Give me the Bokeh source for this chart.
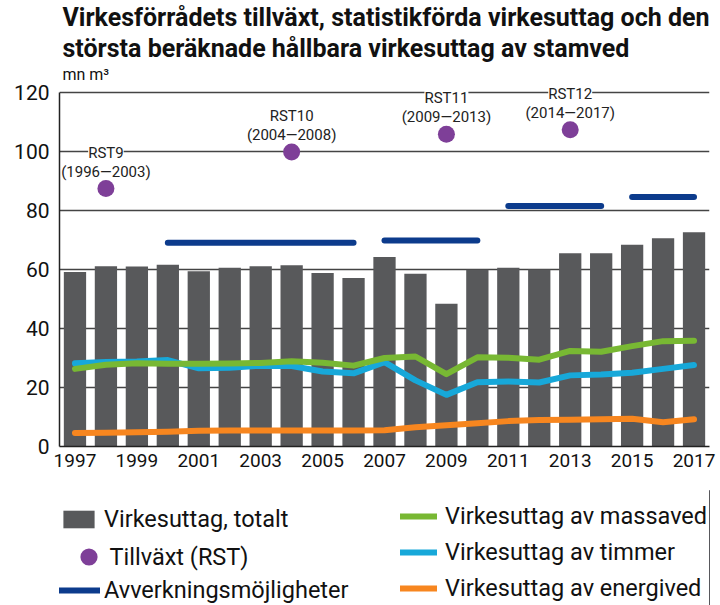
from bokeh.plotting import figure
from bokeh.models import (ColumnDataSource, FixedTicker, Legend, LegendItem,
                          LabelSet, Title, Range1d)
from bokeh.layouts import column
from bokeh.core.properties import value
from bokeh.embed import file_html
from bokeh.resources import INLINE

# ---------------- data ----------------
years = list(range(1997, 2018))
total = [59.1, 61.1, 61.0, 61.6, 59.4, 60.6, 61.1, 61.4, 58.8, 57.1, 64.2,
         58.5, 48.4, 59.9, 60.6, 60.0, 65.5, 65.5, 68.4, 70.6, 72.6]
massaved = [26.3, 27.7, 28.2, 28.0, 28.0, 28.1, 28.3, 28.9, 28.4, 27.4, 30.0,
            30.5, 24.5, 30.2, 30.1, 29.4, 32.4, 32.1, 34.0, 35.7, 35.8]
timmer = [28.2, 28.6, 28.8, 29.3, 26.5, 26.7, 27.4, 27.3, 25.4, 24.8, 28.6,
          22.4, 17.5, 21.8, 22.0, 21.7, 24.1, 24.4, 25.0, 26.3, 27.6]
energived = [4.6, 4.7, 4.8, 5.0, 5.3, 5.4, 5.4, 5.4, 5.4, 5.4, 5.5,
             6.5, 7.2, 7.9, 8.6, 9.0, 9.1, 9.2, 9.4, 8.2, 9.2]

rst_years = [1998, 2004, 2009, 2013]
rst_values = [87.4, 99.8, 105.8, 107.3]
rst_names = ["RST9", "RST10", "RST11", "RST12"]
rst_periods = ["(1996\u20142003)", "(2004\u20142008)", "(2009\u20142013)", "(2014\u20142017)"]

am_start = [2000, 2007, 2011, 2015]
am_end = [2006, 2010, 2014, 2017]
am_value = [69.0, 69.8, 81.5, 84.5]

x_ticks = [1997, 1999, 2001, 2003, 2005, 2007, 2009, 2011, 2013, 2015, 2017]
y_ticks = [0, 20, 40, 60, 80, 100, 120]

title_line1 = "Virkesförrådets tillväxt, statistikförda virkesuttag och den"
title_line2 = "största beräknade hållbara virkesuttag av stamved"
unit_text = "mn m³"

FONT = "Roboto"
C_BAR = "#58595b"
C_GREEN = "#78b833"
C_BLUE = "#17a8d9"
C_ORANGE = "#f7861f"
C_NAVY = "#0c3b8c"
C_PURPLE = "#7e3f98"

# ---------------- main figure ----------------
p = figure(width=720, height=490, output_backend="svg", toolbar_location=None,
           title=None,
           x_range=Range1d(1996.5, 2017.5), y_range=Range1d(0, 123),
           min_border_left=59, min_border_right=11, min_border_top=83,
           min_border_bottom=44)
p.outline_line_color = None
p.background_fill_color = "white"
p.border_fill_color = "white"

# titles (first added = closest to frame)
p.add_layout(Title(text=unit_text, text_font=FONT, text_font_size="16px",
                   text_font_style="normal", text_color="#111", align="left",
                   offset=3, standoff=0), "above")
p.add_layout(Title(text=title_line2, text_font=FONT, text_font_size="25px",
                   text_font_style="bold", text_color="#111", align="left",
                   offset=3, standoff=0), "above")
p.add_layout(Title(text=title_line1, text_font=FONT, text_font_size="25px",
                   text_font_style="bold", text_color="#111", align="left",
                   offset=3, standoff=0), "above")

# axes
p.xaxis.ticker = FixedTicker(ticks=x_ticks)
p.yaxis.ticker = FixedTicker(ticks=y_ticks)
p.yaxis.bounds = (0, 120)
for ax in (p.xaxis, p.yaxis):
    ax.major_tick_out = 0
    ax.major_tick_in = 0
    ax.minor_tick_out = 0
    ax.minor_tick_in = 0
    ax.axis_line_color = "#222"
    ax.axis_line_width = 1.5
    ax.major_label_text_font = FONT
    ax.major_label_text_color = "#111"
p.xaxis.major_label_text_font_size = "19px"
p.yaxis.major_label_text_font_size = "21px"
p.xaxis.major_label_standoff = 7
p.yaxis.major_label_standoff = 10

p.xgrid.visible = False
p.ygrid.ticker = FixedTicker(ticks=y_ticks)
p.ygrid.grid_line_color = "#444444"
p.ygrid.grid_line_width = 1.3

# ---------------- glyphs ----------------
src = ColumnDataSource(dict(year=years, total=total, massaved=massaved,
                            timmer=timmer, energived=energived))
am_src = ColumnDataSource(dict(x0=am_start, x1=am_end, y=am_value))
rst_src = ColumnDataSource(dict(year=rst_years, value=rst_values,
                                name=rst_names, period=rst_periods))


def draw(fig):
    r_bar = fig.vbar(x="year", top="total", bottom=0, width=0.72, source=src,
                     fill_color=C_BAR, line_color=None)
    r_blue = fig.line(x="year", y="timmer", source=src, line_color=C_BLUE,
                      line_width=6, line_join="round", line_cap="round")
    r_green = fig.line(x="year", y="massaved", source=src, line_color=C_GREEN,
                       line_width=6, line_join="round", line_cap="round")
    r_orange = fig.line(x="year", y="energived", source=src, line_color=C_ORANGE,
                        line_width=6, line_join="round", line_cap="round")
    r_navy = fig.segment(x0="x0", y0="y", x1="x1", y1="y", source=am_src,
                         line_color=C_NAVY, line_width=6, line_cap="round")
    r_dot = fig.scatter(x="year", y="value", source=rst_src, size=17,
                        fill_color=C_PURPLE, line_color=None)
    return r_bar, r_blue, r_green, r_orange, r_navy, r_dot


draw(p)

p.add_layout(LabelSet(x="year", y="value", text="name", source=rst_src,
                      text_align="center", text_baseline="middle",
                      y_offset=36, text_font=value(FONT),
                      text_font_size="15px", text_color="#222",
                      background_fill_color="white"))
p.add_layout(LabelSet(x="year", y="value", text="period", source=rst_src,
                      text_align="center", text_baseline="middle",
                      y_offset=17, text_font=value(FONT),
                      text_font_size="15px", text_color="#222"))

# ---------------- legend figure ----------------
# same series drawn far outside this panel's ranges; only their legend shows
q = figure(width=720, height=115, output_backend="svg", toolbar_location=None,
           title=None, x_range=Range1d(0, 1), y_range=Range1d(0, 1),
           x_axis_location=None, y_axis_location=None, min_border=0)
q.grid.visible = False
q.outline_line_color = None
q.border_fill_color = "white"
r_bar, r_blue, r_green, r_orange, r_navy, r_dot = draw(q)

common = dict(orientation="vertical", padding=0, margin=0,
              label_text_font=FONT, label_text_font_size="23.5px",
              label_text_color="#111", label_height=30,
              border_line_color=None, background_fill_alpha=0)

leg_bar = Legend(items=[LegendItem(label="Virkesuttag, totalt", renderers=[r_bar])],
                 location=(0, 71), glyph_width=39, glyph_height=22,
                 label_standoff=6, **common)
leg_dot = Legend(items=[LegendItem(label="Tillväxt (RST)", renderers=[r_dot])],
                 location=(7.5, 27), glyph_width=43, glyph_height=43,
                 label_standoff=0, **common)
leg_navy = Legend(items=[LegendItem(label="Avverkningsmöjligheter", renderers=[r_navy])],
                  location=(0, 0), glyph_width=41, glyph_height=20,
                  label_standoff=4, **common)
leg_right = Legend(items=[
    LegendItem(label="Virkesuttag av massaved", renderers=[r_green]),
    LegendItem(label="Virkesuttag av timmer", renderers=[r_blue]),
    LegendItem(label="Virkesuttag av energived", renderers=[r_orange]),
], location=(341, 2), glyph_width=37, glyph_height=20, label_standoff=8,
    spacing=6, **common)
for lg in (leg_bar, leg_dot, leg_navy, leg_right):
    q.add_layout(lg, "center")

layout = column(p, q, spacing=0)
open("out.html", "w").write(file_html(layout, INLINE))
